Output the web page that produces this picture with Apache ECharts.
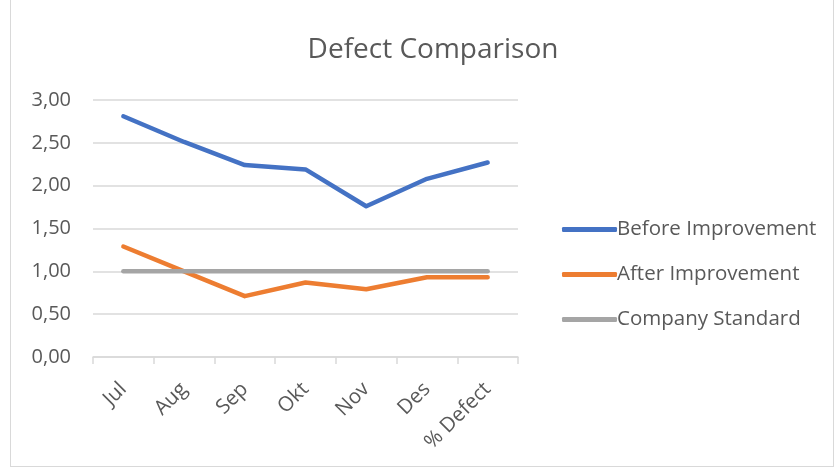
<!DOCTYPE html>
<html>
<head>
<meta charset="utf-8">
<script src="https://cdn.jsdelivr.net/npm/echarts@6/dist/echarts.min.js"></script>
<style>
  html, body { margin: 0; padding: 0; background: #fff; }
  #frame { position: absolute; left: 10px; top: -2px; width: 822px; height: 467px; border: 1px solid #d9d9d9; }
  #main { width: 834px; height: 472px; }
</style>
</head>
<body>
<div id="frame"></div>
<div id="main"></div>
<script>
const months = ['Jul', 'Aug', 'Sep', 'Okt', 'Nov', 'Des', '% Defect'];
const beforeImprovement = [2.81, 2.51, 2.24, 2.19, 1.76, 2.08, 2.27];
const afterImprovement = [1.29, 1.00, 0.71, 0.87, 0.79, 0.93, 0.93];
const companyStandard = [1.00, 1.00, 1.00, 1.00, 1.00, 1.00, 1.00];

const chart = echarts.init(document.getElementById('main'));
const txt = '#595959';
const font = 'Open Sans';

function lineSeries(name, data, color) {
  return {
    name: name,
    type: 'line',
    data: data,
    symbol: 'none',
    lineStyle: { color: color, width: 4.5, cap: 'round', join: 'round' },
    itemStyle: { color: color }
  };
}

chart.setOption({
  animation: false,
  title: {
    text: 'Defect Comparison',
    left: 428,
    top: 31,
    textAlign: 'center',
    textStyle: { color: txt, fontFamily: font, fontSize: 28, fontWeight: 'normal' }
  },
  legend: {
    orient: 'vertical',
    left: 557,
    top: 214,
    itemWidth: 55,
    itemHeight: 5,
    itemGap: 24,
    icon: 'roundRect',
    textStyle: { color: txt, fontFamily: font, fontSize: 20.5, padding: [0, 0, 0, -5] },
    data: ['Before Improvement', 'After Improvement', 'Company Standard']
  },
  grid: { left: 93, right: 316, top: 100, bottom: 115 },
  xAxis: {
    type: 'category',
    data: months,
    boundaryGap: true,
    axisLine: { lineStyle: { color: '#d9d9d9', width: 1.5 } },
    axisTick: { show: true, length: 7, lineStyle: { color: '#d9d9d9', width: 1.5 } },
    axisLabel: { color: txt, fontFamily: font, fontSize: 20.5, rotate: 45, margin: 29, interval: 0 }
  },
  yAxis: {
    type: 'value',
    min: 0,
    max: 3,
    interval: 0.5,
    axisLine: { show: false },
    axisTick: { show: false },
    splitLine: { lineStyle: { color: '#d9d9d9', width: 1.5 } },
    axisLabel: {
      color: txt, fontFamily: font, fontSize: 20, margin: 22,
      formatter: v => v.toFixed(2).replace('.', ',')
    }
  },
  series: [
    lineSeries('Before Improvement', beforeImprovement, '#4472C4'),
    lineSeries('After Improvement', afterImprovement, '#ED7D31'),
    lineSeries('Company Standard', companyStandard, '#A5A5A5')
  ]
});
</script>
</body>
</html>
